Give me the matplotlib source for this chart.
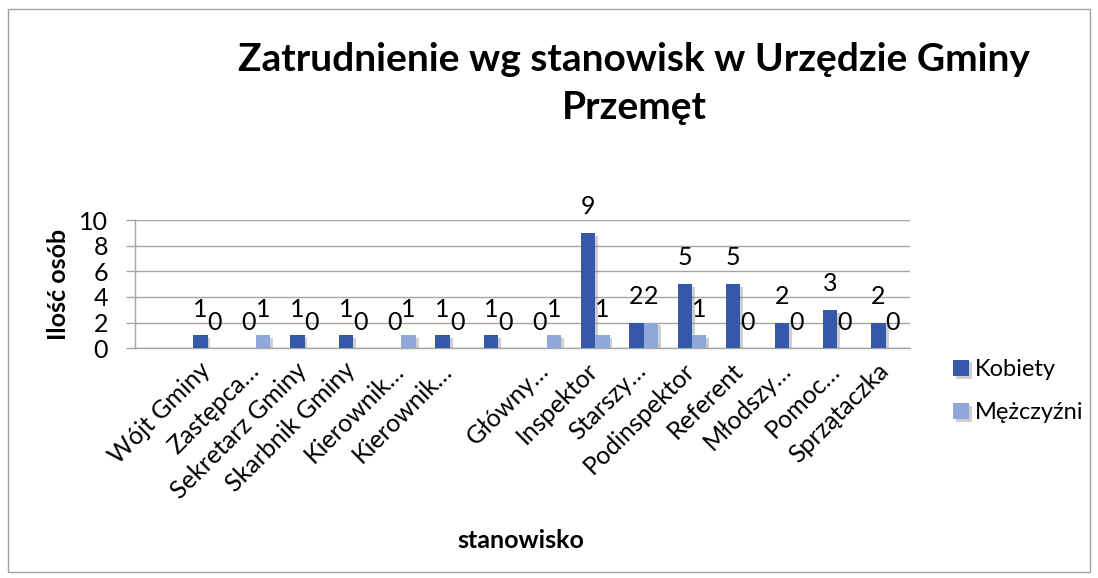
import matplotlib
matplotlib.use("Agg")
import matplotlib.pyplot as plt
import matplotlib.patches as mpatches
import matplotlib.patheffects as pe
import matplotlib.transforms as mtransforms
import numpy as np

plt.rcParams['font.family'] = ['Lato', 'DejaVu Sans']

categories = ['', 'Wójt Gminy', 'Zastępca…', 'Sekretarz Gminy', 'Skarbnik Gminy',
              'Kierownik…', 'Kierownik…', '', 'Główny…', 'Inspektor', 'Starszy…',
              'Podinspektor', 'Referent', 'Młodszy…', 'Pomoc…', 'Sprzątaczka']
kobiety = [None, 1, 0, 1, 1, 0, 1, 1, 0, 9, 2, 5, 5, 2, 3, 2]
mezczyzni = [None, 0, 1, 0, 0, 1, 0, 0, 1, 1, 2, 1, 0, 0, 0, 0]
series_names = ['Kobiety', 'Mężczyźni']
yticks = [0, 2, 4, 6, 8, 10]

title_line1 = 'Zatrudnienie wg stanowisk w Urzędzie Gminy'
title_line2 = 'Przemęt'
xlabel = 'stanowisko'
ylabel = 'Ilość osób'

col_k = '#3559A8'
col_m = '#8FA7DB'
grid_col = '#A6A6A6'

W, H = 1098, 578
fig = plt.figure(figsize=(W / 100, H / 100), dpi=100)
ax = fig.add_axes([135 / W, 1 - 348.3 / H, (910 - 135) / W, (348.3 - 220) / H])

x = np.arange(len(categories))
bw = 0.297
shadow = [pe.SimplePatchShadow(offset=(2, -2), shadow_rgbFace='#777777', alpha=0.35), pe.Normal()]

for vals, off, col, name in [(kobiety, -bw / 2, col_k, series_names[0]),
                              (mezczyzni, bw / 2, col_m, series_names[1])]:
    xs = [xi + off for xi, v in zip(x, vals) if v is not None]
    vs = [v for v in vals if v is not None]
    bars = ax.bar(xs, vs, width=bw, color=col, label=name, zorder=3)
    for b in bars:
        b.set_path_effects(shadow)
    for xi, v in zip(xs, vs):
        ax.annotate(str(v), (xi, v), xytext=(0, 13.5), textcoords='offset points',
                    ha='center', va='baseline', fontsize=18, color='black', zorder=5)

ax.set_xlim(-0.5, len(categories) - 0.5)
ax.set_ylim(0, 10)
ax.set_yticks(yticks)
ax.set_yticklabels([str(t) for t in yticks], fontsize=18)
ax.yaxis.grid(True, color=grid_col, linewidth=1, zorder=0)
ax.set_axisbelow(True)
ax.tick_params(axis='y', length=6.5, width=1, color=grid_col, pad=13)
ax.set_xticks(x)
ax.set_xticklabels(categories, rotation=45, ha='right', va='baseline',
                   rotation_mode='anchor', fontsize=18)
ax.tick_params(axis='x', length=0, pad=17)
shift = mtransforms.ScaledTranslation(4 / 100, 0, fig.dpi_scale_trans)
for lbl in ax.get_xticklabels():
    lbl.set_transform(lbl.get_transform() + shift)
for s in ['top', 'right']:
    ax.spines[s].set_visible(False)
for s in ['left', 'bottom']:
    ax.spines[s].set_color(grid_col)
    ax.spines[s].set_linewidth(1)

fig.text(634 / W, 1 - 71 / H, title_line1, ha='center', va='baseline',
         fontsize=28, fontweight='bold')
fig.text(634 / W, 1 - 119 / H, title_line2, ha='center', va='baseline',
         fontsize=28, fontweight='bold')
fig.text(521 / W, 1 - 541 / H, xlabel, ha='center', va='center',
         fontsize=18, fontweight='bold')
fig.text(58 / W, 1 - 284 / H, ylabel, ha='center', va='center', rotation=90,
         fontsize=18, fontweight='bold')

leg = ax.legend(loc='upper left', bbox_to_anchor=(953 / W, 1 - 359 / H),
                bbox_transform=fig.transFigure, frameon=False, fontsize=17,
                handlelength=0.68, handleheight=0.68, handletextpad=0.25,
                labelspacing=0.95, borderaxespad=0, borderpad=0)

fig.patches.append(mpatches.Rectangle((8 / W, 1 - 572 / H), (1090 - 8) / W, (572 - 9) / H,
                                      transform=fig.transFigure, fill=False,
                                      edgecolor='#A0A0A0', linewidth=1))

fig.savefig('out.png', dpi=100)
